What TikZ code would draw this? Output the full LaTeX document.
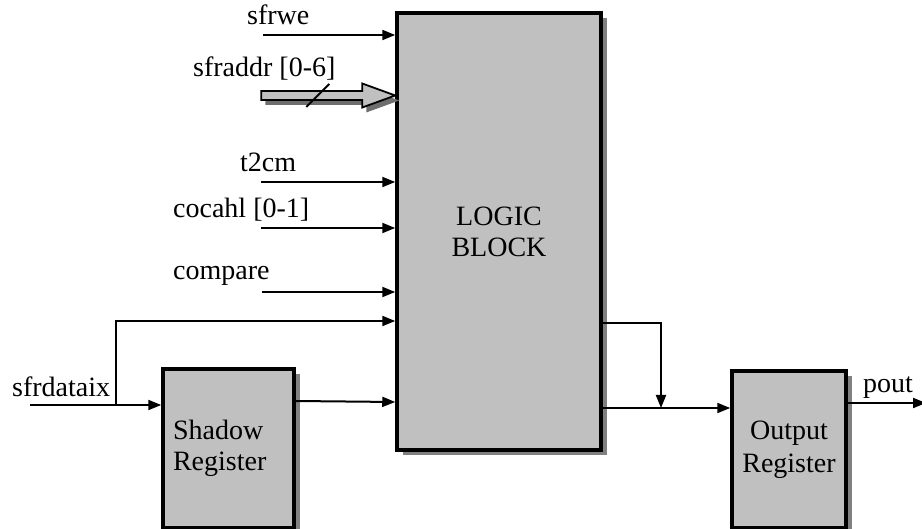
\documentclass[tikz,border=0pt]{standalone}
\usepackage{fontspec}
\setmainfont{Liberation Serif}
\usetikzlibrary{arrows.meta,shadows,calc}
\definecolor{boxgray}{HTML}{C0C0C0}
\definecolor{shgray}{HTML}{808080}
\definecolor{busshadow}{HTML}{6E6E6E}
\begin{document}
\begin{tikzpicture}[x=1pt,y=-1pt,
  every node/.style={font=\fontsize{28}{31}\selectfont},
  blk/.style={draw=black, line width=3.5pt, fill=boxgray, inner sep=0pt,
    drop shadow={shadow xshift=5.5pt, shadow yshift=-5.5pt, fill=shgray, opacity=1}},
  arr/.style={line width=2pt, -{Triangle[length=13pt,width=10pt]}},
  wire/.style={line width=2pt},
  lbl/.style={anchor=base west, inner sep=0pt}]
\useasboundingbox (0,0) rectangle (922,529);

% blocks
\node[blk, minimum width=204pt, minimum height=437pt, align=center] (logic) at (499,231.5) {LOGIC\\BLOCK};
\node[blk, minimum width=131pt, minimum height=159pt, text width=111pt, inner xsep=10pt, align=left] (shadow) at (228.5,448.5) {Shadow\\Register};
\node[blk, minimum width=114pt, minimum height=157pt, align=center] (output) at (789,449.5) {Output\\[2pt]Register};

% labels
\node[lbl] (Lsfrwe) at (247,25) {sfrwe};
\node[lbl] (Lsfraddr) at (193,77) {sfraddr [0-6]};
\node[lbl] (Lt2cm) at (240,172) {t2cm};
\node[lbl] (Lcocahl) at (173,218) {cocahl [0-1]};
\node[lbl] (Lcompare) at (173,280) {compare};
\node[lbl] (Lsfrdataix) at (12,397) {sfrdataix};
\node[lbl] (Lpout) at (863,393) {pout};

% input connectors
\coordinate (sfrweS) at (263,35);
\draw[arr] (sfrweS) -- (sfrweS -| logic.west);
\coordinate (t2cmS) at (261,182);
\draw[arr] (t2cmS) -- (t2cmS -| logic.west);
\coordinate (cocahlS) at (261,228);
\draw[arr] (cocahlS) -- (cocahlS -| logic.west);
\coordinate (compareS) at (262,292);
\draw[arr] (compareS) -- (compareS -| logic.west);

% sfraddr bus arrow
\coordinate (bustip) at (logic.west |- 0,95.5);
\begin{scope}[shift={(bustip)}]
  \fill[busshadow, shift={(4,5)}] (-134,-4.5) -- (-33,-4.5) -- (-33,-12) -- (0,0) -- (-33,12) -- (-33,4.5) -- (-134,4.5) -- cycle;
  \draw[line width=1.8pt, fill=boxgray, line join=miter] (-134,-4.5) -- (-33,-4.5) -- (-33,-12) -- (0,0) -- (-33,12) -- (-33,4.5) -- (-134,4.5) -- cycle;
  \draw[line width=1.8pt] (-89,11.5) -- (-66,-11.5);
\end{scope}

% sfrdataix
\coordinate (sfrin) at (30,405);
\coordinate (br) at (116,405);
\coordinate (brtop) at (116,321);
\draw[arr] (sfrin) -- (sfrin -| shadow.west);
\draw[arr] (br) -- (brtop) -- (brtop -| logic.west);

% shadow register to logic
\coordinate (shout) at (shadow.east |- 0,401);
\draw[arr] (shout) -- (logic.west |- 0,402);

% logic outputs
\coordinate (lo1) at (logic.east |- 0,323);
\coordinate (lo2) at (logic.east |- 0,408);
\coordinate (jn) at (661,323);
\draw[arr] (lo1) -- (jn) -- (jn |- lo2);
\draw[arr] (lo2) -- (lo2 -| output.west);

% pout
\coordinate (poutS) at (output.east |- 0,403);
\coordinate (poutE) at (926,403);
\draw[arr] (poutS) -- (poutE);
\end{tikzpicture}
\end{document}
